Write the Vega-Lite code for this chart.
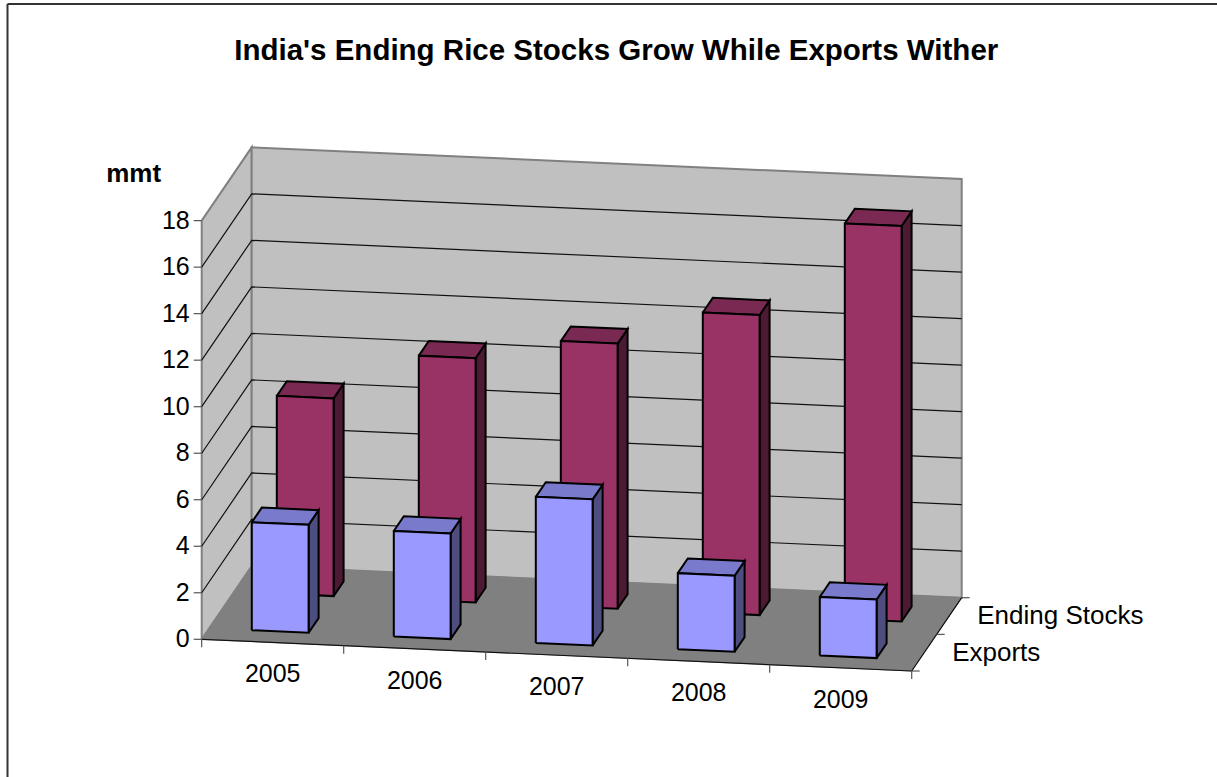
{
  "$schema": "https://vega.github.io/schema/vega-lite/v6.json",
  "description": "India's rice exports and ending stocks, 2005-2009, drawn as an oblique 3D column chart. Category, depth and value coordinates go through one affine projection.",
  "autosize": "none",
  "width": 1209.5,
  "height": 773,
  "padding": {"left": 7, "top": 3.5, "right": 0, "bottom": 0},
  "background": "white",
  "view": {"stroke": null},
  "title": {"text": "India's Ending Rice Stocks Grow While Exports Wither", "font": "Liberation Sans", "fontWeight": "bold", "fontSize": 29.5, "color": "black", "anchor": "middle", "dx": 4.5, "offset": -63},
  "params": [
    {"name": "ox", "value": 201.7},
    {"name": "oy", "value": 639.3},
    {"name": "ux", "value": 142},
    {"name": "uy", "value": 6.34},
    {"name": "dx", "value": 25},
    {"name": "dy", "value": 36.65},
    {"name": "vy", "value": 23.26}
  ],
  "datasets": {
    "bars": [
      {"year": 2005, "series": "Ending Stocks", "value": 8.5},
      {"year": 2006, "series": "Ending Stocks", "value": 10.5},
      {"year": 2007, "series": "Ending Stocks", "value": 11.4},
      {"year": 2008, "series": "Ending Stocks", "value": 12.9},
      {"year": 2009, "series": "Ending Stocks", "value": 17.0},
      {"year": 2005, "series": "Exports", "value": 4.64},
      {"year": 2006, "series": "Exports", "value": 4.54},
      {"year": 2007, "series": "Exports", "value": 6.28},
      {"year": 2008, "series": "Exports", "value": 3.27},
      {"year": 2009, "series": "Exports", "value": 2.52}
    ],
    "values": [
      {"tick": 0}, {"tick": 2}, {"tick": 4}, {"tick": 6}, {"tick": 8},
      {"tick": 10}, {"tick": 12}, {"tick": 14}, {"tick": 16}, {"tick": 18}
    ],
    "years": [
      {"year": 2005, "edge": 0}, {"year": 2006, "edge": 1}, {"year": 2007, "edge": 2},
      {"year": 2008, "edge": 3}, {"year": 2009, "edge": 4}, {"year": null, "edge": 5}
    ],
    "depths": [
      {"series": "Exports", "edge": 0}, {"series": "Ending Stocks", "edge": 1}, {"series": null, "edge": 2}
    ]
  },
  "encoding": {
    "x": {"field": "sx", "type": "quantitative", "title": null,
      "scale": {"domain": [7, 1216.5], "nice": false, "zero": false},
      "axis": {"orient": "top", "domain": true, "domainColor": "#333333", "domainWidth": 2, "ticks": false, "labels": false, "grid": false}},
    "y": {"field": "sy", "type": "quantitative", "title": null,
      "scale": {"domain": [3.5, 776.5], "nice": false, "zero": false, "reverse": true},
      "axis": {"orient": "left", "domain": true, "domainColor": "#333333", "domainWidth": 2, "ticks": false, "labels": false, "grid": false}}
  },
  "layer": [
    {
      "data": {"values": [{"plane": "side"}, {"plane": "back"}]},
      "transform": [
        {"calculate": "[0,1,2,3,4]", "as": "ord"},
        {"calculate": "datum.plane==='side'?[0,0,0,0,0]:[0,5,5,0,0]", "as": "vu"},
        {"calculate": "datum.plane==='side'?[0,2,2,0,0]:[2,2,2,2,2]", "as": "vd"},
        {"calculate": "[0,0,18,18,0]", "as": "vv"},
        {"flatten": ["ord", "vu", "vd", "vv"]},
        {"calculate": "ox+ux*datum.vu+dx*datum.vd", "as": "sx"},
        {"calculate": "oy+uy*datum.vu-dy*datum.vd-vy*datum.vv", "as": "sy"}
      ],
      "mark": {"type": "line", "fill": "#C0C0C0", "stroke": "#808080", "strokeWidth": 2, "strokeJoin": "miter"},
      "encoding": {"detail": {"field": "plane"}, "order": {"field": "ord"}}
    },
    {
      "data": {"values": [{"plane": "floor"}]},
      "transform": [
        {"calculate": "[0,1,2,3,4]", "as": "ord"},
        {"calculate": "[0,5,5,0,0]", "as": "vu"},
        {"calculate": "[0,0,2,2,0]", "as": "vd"},
        {"flatten": ["ord", "vu", "vd"]},
        {"calculate": "ox+ux*datum.vu+dx*datum.vd", "as": "sx"},
        {"calculate": "oy+uy*datum.vu-dy*datum.vd", "as": "sy"}
      ],
      "mark": {"type": "line", "fill": "#808080", "stroke": "#808080", "strokeWidth": 1},
      "encoding": {"order": {"field": "ord"}}
    },
    {
      "data": {"name": "values"},
      "transform": [
        {"filter": "datum.tick>0 && datum.tick<18"},
        {"calculate": "[0,1,2]", "as": "ord"},
        {"calculate": "[0,0,5]", "as": "vu"},
        {"calculate": "[0,2,2]", "as": "vd"},
        {"flatten": ["ord", "vu", "vd"]},
        {"calculate": "ox+ux*datum.vu+dx*datum.vd", "as": "sx"},
        {"calculate": "oy+uy*datum.vu-dy*datum.vd-vy*datum.tick", "as": "sy"}
      ],
      "mark": {"type": "line", "stroke": "#111111", "strokeWidth": 1.2},
      "encoding": {"detail": {"field": "tick"}, "order": {"field": "ord"}}
    },
    {
      "data": {"values": [{"edge": "front"}, {"edge": "right"}]},
      "transform": [
        {"calculate": "[0,1]", "as": "ord"},
        {"calculate": "datum.edge==='front'?[0,5]:[5,5]", "as": "vu"},
        {"calculate": "datum.edge==='front'?[0,0]:[0,2]", "as": "vd"},
        {"flatten": ["ord", "vu", "vd"]},
        {"calculate": "ox+ux*datum.vu+dx*datum.vd", "as": "sx"},
        {"calculate": "oy+uy*datum.vu-dy*datum.vd", "as": "sy"}
      ],
      "mark": {"type": "line", "stroke": "#111111", "strokeWidth": 1.2},
      "encoding": {"detail": {"field": "edge"}, "order": {"field": "ord"}}
    },
    {
      "data": {"name": "values"},
      "transform": [
        {"calculate": "ox", "as": "sx"},
        {"calculate": "ox-8", "as": "sx2"},
        {"calculate": "oy-vy*datum.tick", "as": "sy"}
      ],
      "mark": {"type": "rule", "stroke": "#555555", "strokeWidth": 1.2},
      "encoding": {"x2": {"field": "sx2"}}
    },
    {
      "data": {"name": "years"},
      "transform": [
        {"calculate": "ox+ux*datum.edge", "as": "sx"},
        {"calculate": "oy+uy*datum.edge", "as": "sy"},
        {"calculate": "datum.sy+8", "as": "sy2"}
      ],
      "mark": {"type": "rule", "stroke": "#555555", "strokeWidth": 1.2},
      "encoding": {"y2": {"field": "sy2"}}
    },
    {
      "data": {"name": "depths"},
      "transform": [
        {"calculate": "ox+5*ux+dx*datum.edge", "as": "sx"},
        {"calculate": "datum.sx+8", "as": "sx2"},
        {"calculate": "oy+5*uy-dy*datum.edge", "as": "sy"}
      ],
      "mark": {"type": "rule", "stroke": "#555555", "strokeWidth": 1.2},
      "encoding": {"x2": {"field": "sx2"}}
    },
    {
      "data": {"name": "bars"},
      "transform": [
        {"calculate": "datum.year-2005", "as": "u"},
        {"calculate": "datum.series==='Exports'?0:1", "as": "d"},
        {"calculate": "['side','top','front']", "as": "face"},
        {"flatten": ["face"]},
        {"calculate": "datum.series+'|'+datum.face", "as": "tone"},
        {"calculate": "datum.year+'|'+datum.tone", "as": "id"},
        {"calculate": "[0,1,2,3,4]", "as": "ord"},
        {"calculate": "datum.face==='side'?[0.7,0.7,0.7,0.7,0.7]:[0.3,0.7,0.7,0.3,0.3]", "as": "vu"},
        {"calculate": "datum.face==='front'?[0.3,0.3,0.3,0.3,0.3]:datum.face==='side'?[0.3,0.7,0.7,0.3,0.3]:[0.3,0.3,0.7,0.7,0.3]", "as": "vd"},
        {"calculate": "datum.face==='top'?[1,1,1,1,1]:[0,0,1,1,0]", "as": "vv"},
        {"flatten": ["ord", "vu", "vd", "vv"]},
        {"calculate": "ox+ux*(datum.u+datum.vu)+dx*(datum.d+datum.vd)", "as": "sx"},
        {"calculate": "oy+uy*(datum.u+datum.vu)-dy*(datum.d+datum.vd)-vy*datum.value*datum.vv", "as": "sy"}
      ],
      "mark": {"type": "line", "stroke": "black", "strokeWidth": 2, "strokeJoin": "miter"},
      "encoding": {
        "detail": {"field": "id"},
        "order": {"field": "ord"},
        "fill": {"field": "tone", "type": "nominal", "legend": null,
          "scale": {
            "domain": ["Ending Stocks|front", "Ending Stocks|side", "Ending Stocks|top", "Exports|front", "Exports|side", "Exports|top"],
            "range": ["#993366", "#4D1A33", "#7A2952", "#9999FF", "#4D4D80", "#7A7ACC"]}}
      }
    },
    {
      "data": {"name": "values"},
      "transform": [
        {"calculate": "ox-12", "as": "sx"},
        {"calculate": "oy-vy*datum.tick", "as": "sy"}
      ],
      "mark": {"type": "text", "align": "right", "baseline": "middle", "font": "Liberation Sans", "fontSize": 25, "fill": "black"},
      "encoding": {"text": {"field": "tick", "type": "nominal"}}
    },
    {
      "data": {"name": "years"},
      "transform": [
        {"filter": "datum.year!==null"},
        {"calculate": "ox+ux*(datum.edge+0.5)", "as": "sx"},
        {"calculate": "oy+uy*(datum.edge+0.5)+32", "as": "sy"}
      ],
      "mark": {"type": "text", "align": "center", "baseline": "middle", "font": "Liberation Sans", "fontSize": 25, "fill": "black"},
      "encoding": {"text": {"field": "year", "type": "nominal"}}
    },
    {
      "data": {"name": "depths"},
      "transform": [
        {"filter": "datum.series!==null"},
        {"calculate": "ox+5*ux+dx*(datum.edge+0.5)+28", "as": "sx"},
        {"calculate": "oy+5*uy-dy*(datum.edge+0.5)", "as": "sy"}
      ],
      "mark": {"type": "text", "align": "left", "baseline": "middle", "font": "Liberation Sans", "fontSize": 26, "fill": "black"},
      "encoding": {"text": {"field": "series", "type": "nominal"}}
    },
    {
      "data": {"values": [{"unit": "mmt", "level": 20}]},
      "transform": [
        {"calculate": "ox-68", "as": "sx"},
        {"calculate": "oy-vy*datum.level", "as": "sy"}
      ],
      "mark": {"type": "text", "align": "center", "baseline": "middle", "font": "Liberation Sans", "fontWeight": "bold", "fontSize": 26, "fill": "black"},
      "encoding": {"text": {"field": "unit", "type": "nominal"}}
    }
  ]
}
